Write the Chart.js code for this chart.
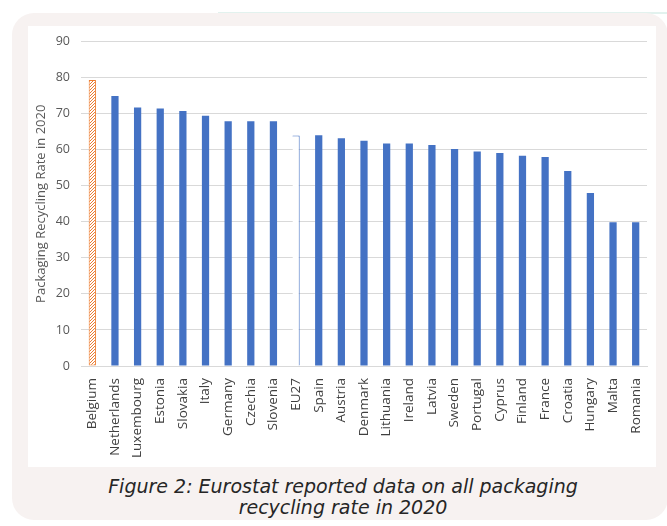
<!DOCTYPE html>
<html>
<head>
<meta charset="utf-8">
<script src="https://cdn.jsdelivr.net/npm/chart.js@4"></script>
<style>
  html, body { margin: 0; padding: 0; background: #fff; width: 667px; height: 526px; overflow: hidden; }
  #topline { position: absolute; left: 218px; top: 12px; width: 460px; height: 2px; background: #e2f2ee; }
  #frame { position: absolute; left: 12px; top: 13px; width: 656px; height: 507px; background: #f7f2f1; border-radius: 22px; }
  #plot { position: absolute; left: 28px; top: 26px; width: 628px; height: 441px; background: #fff; overflow: hidden; }
  #recycling-chart { position: absolute; left: 0; top: -3px; }
  #caption { position: absolute; left: 28px; top: 476px; width: 630px; text-align: center;
             font-family: "DejaVu Sans", sans-serif; font-style: italic; font-size: 19px;
             line-height: 21px; color: #262626; }
</style>
</head>
<body>
<div id="topline"></div>
<div id="frame"></div>
<div id="plot"><canvas id="recycling-chart" width="628" height="444"></canvas></div>
<div id="caption">Figure 2: Eurostat reported data on all packaging<br>recycling rate in 2020</div>
<script>
// Packaging recycling rate per country, 2020
const countries = ['Belgium', 'Netherlands', 'Luxembourg', 'Estonia', 'Slovakia', 'Italy', 'Germany',
    'Czechia', 'Slovenia', 'EU27', 'Spain', 'Austria', 'Denmark', 'Lithuania', 'Ireland', 'Latvia',
    'Sweden', 'Portugal', 'Cyprus', 'Finland', 'France', 'Croatia', 'Hungary', 'Malta', 'Romania'];
const recyclingRates = [79.3, 74.9, 71.7, 71.4, 70.7, 69.4, 67.9, 67.9, 67.9, 63.9, 64.0, 63.2, 62.5,
    61.7, 61.7, 61.3, 60.2, 59.5, 59.1, 58.3, 58.0, 54.1, 48.0, 39.9, 39.9];
const yTicks = [0, 10, 20, 30, 40, 50, 60, 70, 80, 90];

const blue = '#4472c4';
const orange = '#ed7d31';

// Diagonal hatch used for Belgium, drawn pixel by pixel so it stays crisp
function makeHatch() {
    const c = document.createElement('canvas');
    c.width = 3; c.height = 3;
    const g = c.getContext('2d');
    g.fillStyle = '#ffffff';
    g.fillRect(0, 0, 3, 3);
    g.fillStyle = orange;
    for (let i = 0; i < 3; i++) {
        g.fillRect(2 - i, i, 1, 1);
    }
    return g.createPattern(c, 'repeat');
}
const hatch = makeHatch();

const borderWidths = countries.map(c => {
    if (c === 'Belgium') return 1;
    if (c === 'EU27') return { top: 1, right: 1, left: 0, bottom: 0 };
    return 0;
});

function barFill(context) {
    const name = countries[context.dataIndex];
    if (name === 'Belgium') return hatch;
    if (name === 'EU27') return '#ffffff';
    return blue;
}

const ctx = document.getElementById('recycling-chart').getContext('2d');
new Chart(ctx, {
    type: 'bar',
    data: {
        labels: countries,
        datasets: [{
            data: recyclingRates,
            backgroundColor: barFill,
            hoverBackgroundColor: barFill,
            borderColor: context => countries[context.dataIndex] === 'Belgium' ? orange : blue,
            borderWidth: borderWidths,
            borderSkipped: false,
            categoryPercentage: 1,
            barPercentage: 0.32
        }]
    },
    options: {
        responsive: false,
        animation: false,
        layout: { padding: { top: 4.5, right: 6, left: 5, bottom: 0 } },
        plugins: { legend: { display: false }, tooltip: { enabled: false } },
        scales: {
            x: {
                grid: { display: false },
                border: { display: true, color: '#d9d9d9' },
                ticks: {
                    autoSkip: false, minRotation: 90, maxRotation: 90, padding: 4,
                    color: '#404040', font: { family: 'Open Sans', size: 13.5 }
                },
                afterFit: scale => { scale.height = 101; }
            },
            y: {
                min: 0, max: 90,
                afterBuildTicks: scale => { scale.ticks = yTicks.map(v => ({ value: v })); },
                grid: { color: '#d9d9d9', drawTicks: false },
                border: { display: false },
                ticks: { padding: 11, color: '#595959', font: { family: 'Open Sans', size: 12.5 } },
                title: {
                    display: true, text: 'Packaging Recycling Rate in 2020',
                    color: '#595959', font: { family: 'Open Sans', size: 13 }, padding: 0
                },
                afterFit: scale => { scale.width = 48; }
            }
        }
    }
});
</script>
</body>
</html>
